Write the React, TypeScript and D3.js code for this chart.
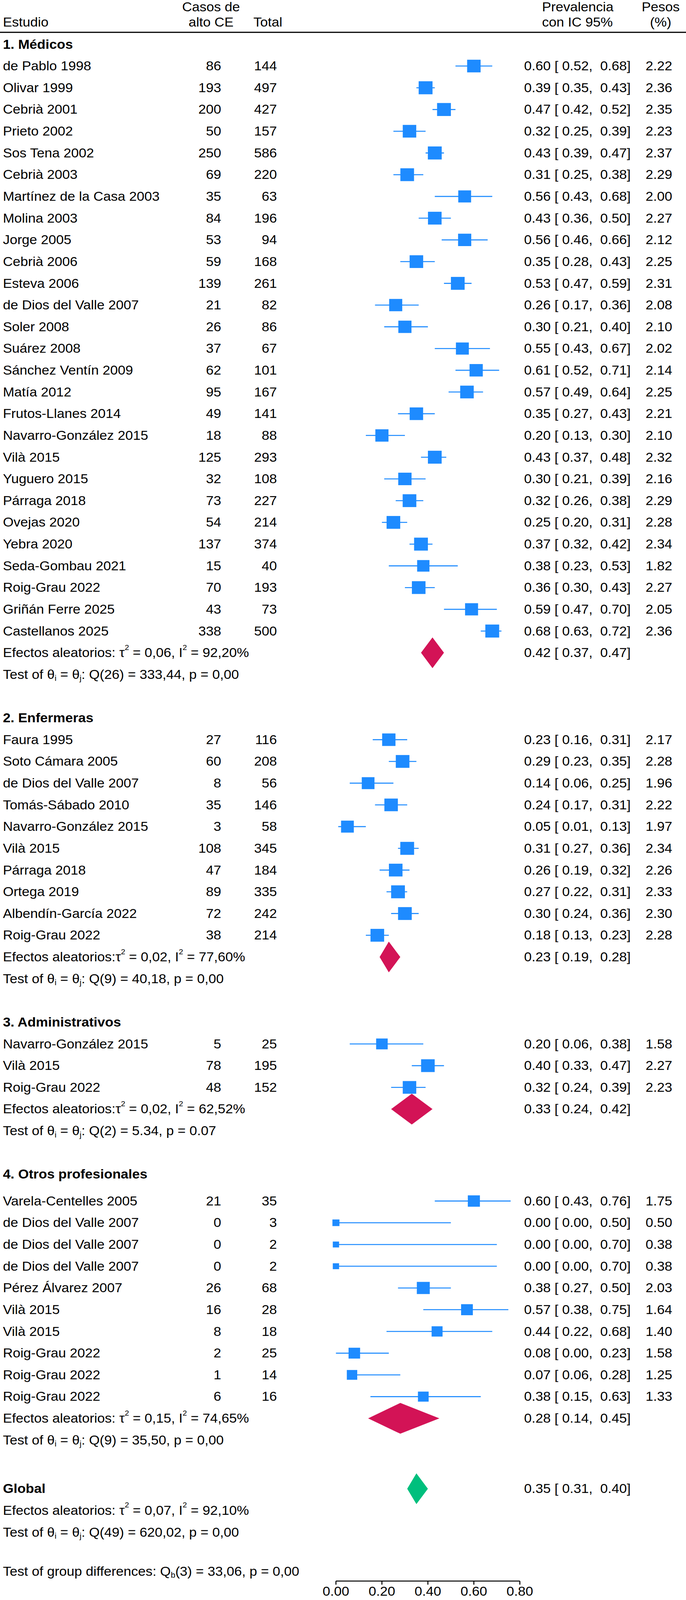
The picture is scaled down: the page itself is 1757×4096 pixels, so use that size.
import * as d3 from 'd3';

// [study, cases, total, prevalence, lower, upper, weight %]
type Study = [string, number, number, number, number, number, number];

const medicos: Study[] = [
  ['de Pablo 1998', 86, 144, 0.6, 0.52, 0.68, 2.22],
  ['Olivar 1999', 193, 497, 0.39, 0.35, 0.43, 2.36],
  ['Cebrià 2001', 200, 427, 0.47, 0.42, 0.52, 2.35],
  ['Prieto 2002', 50, 157, 0.32, 0.25, 0.39, 2.23],
  ['Sos Tena 2002', 250, 586, 0.43, 0.39, 0.47, 2.37],
  ['Cebrià 2003', 69, 220, 0.31, 0.25, 0.38, 2.29],
  ['Martínez de la Casa 2003', 35, 63, 0.56, 0.43, 0.68, 2.0],
  ['Molina 2003', 84, 196, 0.43, 0.36, 0.5, 2.27],
  ['Jorge 2005', 53, 94, 0.56, 0.46, 0.66, 2.12],
  ['Cebrià 2006', 59, 168, 0.35, 0.28, 0.43, 2.25],
  ['Esteva 2006', 139, 261, 0.53, 0.47, 0.59, 2.31],
  ['de Dios del Valle 2007', 21, 82, 0.26, 0.17, 0.36, 2.08],
  ['Soler 2008', 26, 86, 0.3, 0.21, 0.4, 2.1],
  ['Suárez 2008', 37, 67, 0.55, 0.43, 0.67, 2.02],
  ['Sánchez Ventín 2009', 62, 101, 0.61, 0.52, 0.71, 2.14],
  ['Matía 2012', 95, 167, 0.57, 0.49, 0.64, 2.25],
  ['Frutos-Llanes 2014', 49, 141, 0.35, 0.27, 0.43, 2.21],
  ['Navarro-González 2015', 18, 88, 0.2, 0.13, 0.3, 2.1],
  ['Vilà 2015', 125, 293, 0.43, 0.37, 0.48, 2.32],
  ['Yuguero 2015', 32, 108, 0.3, 0.21, 0.39, 2.16],
  ['Párraga 2018', 73, 227, 0.32, 0.26, 0.38, 2.29],
  ['Ovejas 2020', 54, 214, 0.25, 0.2, 0.31, 2.28],
  ['Yebra 2020', 137, 374, 0.37, 0.32, 0.42, 2.34],
  ['Seda-Gombau 2021', 15, 40, 0.38, 0.23, 0.53, 1.82],
  ['Roig-Grau 2022', 70, 193, 0.36, 0.3, 0.43, 2.27],
  ['Griñán Ferre 2025', 43, 73, 0.59, 0.47, 0.7, 2.05],
  ['Castellanos 2025', 338, 500, 0.68, 0.63, 0.72, 2.36],
];

const enfermeras: Study[] = [
  ['Faura 1995', 27, 116, 0.23, 0.16, 0.31, 2.17],
  ['Soto Cámara 2005', 60, 208, 0.29, 0.23, 0.35, 2.28],
  ['de Dios del Valle 2007', 8, 56, 0.14, 0.06, 0.25, 1.96],
  ['Tomás-Sábado 2010', 35, 146, 0.24, 0.17, 0.31, 2.22],
  ['Navarro-González 2015', 3, 58, 0.05, 0.01, 0.13, 1.97],
  ['Vilà 2015', 108, 345, 0.31, 0.27, 0.36, 2.34],
  ['Párraga 2018', 47, 184, 0.26, 0.19, 0.32, 2.26],
  ['Ortega 2019', 89, 335, 0.27, 0.22, 0.31, 2.33],
  ['Albendín-García 2022', 72, 242, 0.3, 0.24, 0.36, 2.3],
  ['Roig-Grau 2022', 38, 214, 0.18, 0.13, 0.23, 2.28],
];

const administrativos: Study[] = [
  ['Navarro-González 2015', 5, 25, 0.2, 0.06, 0.38, 1.58],
  ['Vilà 2015', 78, 195, 0.4, 0.33, 0.47, 2.27],
  ['Roig-Grau 2022', 48, 152, 0.32, 0.24, 0.39, 2.23],
];

const otros: Study[] = [
  ['Varela-Centelles 2005', 21, 35, 0.6, 0.43, 0.76, 1.75],
  ['de Dios del Valle 2007', 0, 3, 0.0, 0.0, 0.5, 0.5],
  ['de Dios del Valle 2007', 0, 2, 0.0, 0.0, 0.7, 0.38],
  ['de Dios del Valle 2007', 0, 2, 0.0, 0.0, 0.7, 0.38],
  ['Pérez Álvarez 2007', 26, 68, 0.38, 0.27, 0.5, 2.03],
  ['Vilà 2015', 16, 28, 0.57, 0.38, 0.75, 1.64],
  ['Vilà 2015', 8, 18, 0.44, 0.22, 0.68, 1.4],
  ['Roig-Grau 2022', 2, 25, 0.08, 0.0, 0.23, 1.58],
  ['Roig-Grau 2022', 1, 14, 0.07, 0.06, 0.28, 1.25],
  ['Roig-Grau 2022', 6, 16, 0.38, 0.15, 0.63, 1.33],
];

const groupTitles = ['1. Médicos', '2. Enfermeras', '3. Administrativos', '4. Otros profesionales'];
const groupStudies = [medicos, enfermeras, administrativos, otros];
const groupPooled: [number, number, number][] = [
  [0.42, 0.37, 0.47],
  [0.23, 0.19, 0.28],
  [0.33, 0.24, 0.42],
  [0.28, 0.14, 0.45],
];
const groupLabelSep = [' ', '', '', ' '];
const groupTau2 = ['0,06', '0,02', '0,02', '0,15'];
const groupI2 = ['92,20%', '77,60%', '62,52%', '74,65%'];
const groupQdf = [26, 9, 2, 9];
const groupQ = ['333,44', '40,18', '5.34', '35,50'];
const groupP = ['0,00', '0,00', '0.07', '0,00'];

const globalPooled: [number, number, number] = [0.35, 0.31, 0.4];
const globalTau2 = '0,07';
const globalI2 = '92,10%';
const globalQdf = 49;
const globalQ = '620,02';
const globalP = '0,00';
const diffDf = 3;
const diffQ = '33,06';
const diffP = '0,00';

const axisTicks = [0, 0.2, 0.4, 0.6, 0.8];

// layout (reference pixel space, scaled down by the viewBox)
const W = 1895;
const H = 4417;
const FONT = '"Liberation Sans", Arial, Helvetica, sans-serif';
const FS = 35.5;
const SX = 1.065; // the reference is slightly stretched horizontally
const BL = 12;
const BLUE = '#1E8BFF';
const PINK = '#D31356';
const GREEN = '#00BF7D';

const headRows = [-1, 30, 44, 51];
const firstRows = [0, 31, 45, 52.23];
const globalRow = 65.47;
const diffRow = 69.27;
const axisY = 4365;

const x = d3.scaleLinear().domain([0, 0.8]).range([928, 1436]);
const y = d3.scaleLinear().domain([0, 1]).range([182, 242]);
const allWeights = groupStudies.flat().map((d) => d[6]);
const boxSize = d3
  .scaleSqrt()
  .domain(d3.extent(allWeights) as [number, number])
  .range([16.3, 36]);

const fmt = (v: number) => v.toFixed(2);
const ciText = (e: number, lo: number, hi: number) => `${fmt(e)} [ ${fmt(lo)},  ${fmt(hi)}]`;

type TxtProps = {
  x: number;
  y: number;
  anchor?: 'start' | 'middle' | 'end';
  bold?: boolean;
  children: React.ReactNode;
};

function Txt({ x: tx, y: ty, anchor = 'start', bold = false, children }: TxtProps) {
  return (
    <text
      transform={`translate(${tx},${ty}) scale(${SX},1)`}
      textAnchor={anchor}
      fontWeight={bold ? 'bold' : 'normal'}
      fontSize={FS}
      fontFamily={FONT}
      fill="#000"
      style={{ whiteSpace: 'pre' }}
    >
      {children}
    </text>
  );
}

function ReLabel({ ty, sep, tau2, i2 }: { ty: number; sep: string; tau2: string; i2: string }) {
  return (
    <Txt x={8} y={ty}>
      {`Efectos aleatorios:${sep}τ`}
      <tspan dy={-20} fontSize={20}>2</tspan>
      <tspan dy={20}>{` = ${tau2}, I`}</tspan>
      <tspan dy={-20} fontSize={20}>2</tspan>
      <tspan dy={20}>{` = ${i2}`}</tspan>
    </Txt>
  );
}

function QLabel({ ty, df, q, p }: { ty: number; df: number; q: string; p: string }) {
  return (
    <Txt x={8} y={ty}>
      {'Test of θ'}
      <tspan dy={6} fontSize={21}>i</tspan>
      <tspan dy={-6}>{' = θ'}</tspan>
      <tspan dy={6} fontSize={21}>j</tspan>
      <tspan dy={-6}>{`: Q(${df}) = ${q}, p = ${p}`}</tspan>
    </Txt>
  );
}

function Diamond({ cy, est, color }: { cy: number; est: [number, number, number]; color: string }) {
  const [e, lo, hi] = est;
  const h = 42.5;
  const pts: [number, number][] = [
    [x(lo), cy],
    [x(e), cy - h],
    [x(hi), cy],
    [x(e), cy + h],
  ];
  return <polygon points={pts.map((p) => p.join(',')).join(' ')} fill={color} />;
}

export default function App() {
  return (
    <svg
      width={1757}
      height={4096}
      viewBox={`0 0 ${W} ${H}`}
      style={{ position: 'absolute', left: 0, top: 0, background: '#fff' }}
    >
      <rect width={W} height={H} fill="#fff" />

      {/* header */}
      <Txt x={8} y={73}>Estudio</Txt>
      <Txt x={583} y={31} anchor="middle">Casos de</Txt>
      <Txt x={583} y={73} anchor="middle">alto CE</Txt>
      <Txt x={740} y={73} anchor="middle">Total</Txt>
      <Txt x={1596} y={31} anchor="middle">Prevalencia</Txt>
      <Txt x={1595} y={73} anchor="middle">con IC 95%</Txt>
      <Txt x={1825} y={31} anchor="middle">Pesos</Txt>
      <Txt x={1825} y={73} anchor="middle">(%)</Txt>
      <line x1={0} x2={W} y1={89} y2={89} stroke="#000" strokeWidth={3.2} />

      {groupStudies.map((studies, g) => {
        const r0 = firstRows[g];
        const reY = y(r0 + studies.length);
        const qY = y(r0 + studies.length + 1);
        return (
          <g key={groupTitles[g]}>
            <Txt x={8} y={y(headRows[g]) + BL} bold>
              {groupTitles[g]}
            </Txt>
            {studies.map((d, i) => {
              const [name, cases, total, e, lo, hi, w] = d;
              const cy = y(r0 + i);
              const s = boxSize(w);
              return (
                <g key={`${name}-${i}`}>
                  <Txt x={8} y={cy + BL}>{name}</Txt>
                  <Txt x={611} y={cy + BL} anchor="end">{String(cases)}</Txt>
                  <Txt x={765} y={cy + BL} anchor="end">{String(total)}</Txt>
                  <line x1={x(lo)} x2={x(hi)} y1={cy} y2={cy} stroke={BLUE} strokeWidth={2.8} />
                  <rect x={x(e) - (s * SX) / 2} y={cy - s / 2} width={s * SX} height={s} fill={BLUE} />
                  <Txt x={1742} y={cy + BL} anchor="end">{ciText(e, lo, hi)}</Txt>
                  <Txt x={1857} y={cy + BL} anchor="end">{fmt(w)}</Txt>
                </g>
              );
            })}
            <ReLabel ty={reY + BL} sep={groupLabelSep[g]} tau2={groupTau2[g]} i2={groupI2[g]} />
            <Diamond cy={reY} est={groupPooled[g]} color={PINK} />
            <Txt x={1742} y={reY + BL} anchor="end">{ciText(...groupPooled[g])}</Txt>
            <QLabel ty={qY + BL} df={groupQdf[g]} q={groupQ[g]} p={groupP[g]} />
          </g>
        );
      })}

      {/* overall */}
      <Txt x={8} y={y(globalRow) + BL} bold>Global</Txt>
      <Diamond cy={y(globalRow)} est={globalPooled} color={GREEN} />
      <Txt x={1742} y={y(globalRow) + BL} anchor="end">{ciText(...globalPooled)}</Txt>
      <ReLabel ty={y(globalRow + 1) + BL} sep=" " tau2={globalTau2} i2={globalI2} />
      <QLabel ty={y(globalRow + 2) + BL} df={globalQdf} q={globalQ} p={globalP} />

      <Txt x={8} y={y(diffRow) + BL}>
        {'Test of group differences: Q'}
        <tspan dy={6} fontSize={21}>b</tspan>
        <tspan dy={-6}>{`(${diffDf}) = ${diffQ}, p = ${diffP}`}</tspan>
      </Txt>

      {/* x axis */}
      <g>
        <line x1={x(0)} x2={x(0.8)} y1={axisY} y2={axisY} stroke="#000" strokeWidth={2.8} />
        {axisTicks.map((t) => (
          <g key={t}>
            <line x1={x(t)} x2={x(t)} y1={axisY} y2={axisY + 10} stroke="#000" strokeWidth={2.8} />
            <Txt x={x(t)} y={4405} anchor="middle">{fmt(t)}</Txt>
          </g>
        ))}
      </g>
    </svg>
  );
}
